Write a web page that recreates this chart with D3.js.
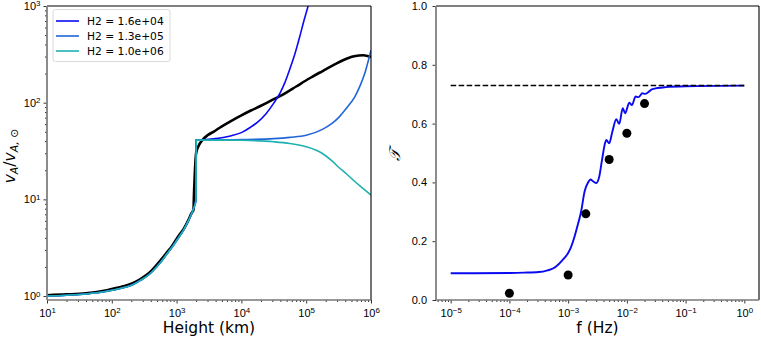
<!DOCTYPE html>
<html>
<head>
<meta charset="utf-8">
<script src="https://cdn.jsdelivr.net/npm/d3@7"></script>
<style>
  body { margin: 0; background: #fff; }
  svg { font-family: "DejaVu Sans", sans-serif; }
</style>
</head>
<body>
<svg id="chart" width="761" height="340"></svg>
<script>
// ---- left panel: Alfven speed profile ----
var heightBelow = [10, 20, 40, 84, 150, 210, 277, 380, 490, 600, 700, 850, 1000, 1150, 1300, 1520, 1700, 1820, 1990];
var colouredBelow = [1.0, 1.02, 1.05, 1.12, 1.22, 1.31, 1.45, 1.68, 2.0, 2.35, 2.7, 3.2, 3.75, 4.3, 4.9, 6.0, 7.1, 8.0, 9.8];

var heightBlack = [10, 20, 40, 84, 150, 210, 277, 380, 490, 600, 700, 850, 1000, 1150, 1300, 1520, 1700, 1820, 1860, 1920, 2000, 2200, 2500, 3000, 3700, 5000, 7000, 10000, 14000, 20000, 31000, 40000, 50000, 70000, 115000, 160000, 200000, 280000, 370000, 460000, 550000, 760000, 1000000];
var vBlack = [1.02, 1.04, 1.07, 1.15, 1.26, 1.36, 1.5, 1.74, 2.09, 2.45, 2.8, 3.3, 3.9, 4.45, 5.0, 6.1, 7.2, 7.8, 12, 20, 30, 36, 41, 46, 50, 57, 65, 74, 83, 93, 108, 117.5, 128, 147, 180, 204, 221, 250, 275, 292, 302, 309, 297];

var heightH2a = [2010, 2500, 4000, 7000, 10000, 14000, 17800, 24000, 31600, 39800, 47000, 56200, 67000, 79400, 92000, 107000, 125000];
var vH2a = [41, 41.2, 42.5, 45.5, 49, 56, 63, 77, 99, 127, 162, 225, 320, 480, 700, 1000, 1500];

var heightH2b = [2010, 5000, 10000, 31600, 56000, 100000, 178000, 250000, 316000, 420000, 562000, 680000, 800000, 900000, 1000000];
var vH2b = [41, 41.2, 41.5, 42.5, 43.8, 46, 53, 61, 70, 88, 115, 150, 200, 265, 350];

var heightH2c = [2010, 5000, 10000, 31600, 56000, 100000, 178000, 250000, 316000, 420000, 562000, 750000, 1000000];
var vH2c = [41, 41, 40.8, 39.4, 37.8, 35, 29.8, 25.0, 21.5, 18.3, 15.3, 13.0, 11.1];

var legendLabels = ["H2 = 1.6e+04", "H2 = 1.3e+05", "H2 = 1.0e+06"];
var legendColors = ["#0a0af5", "#1f66d8", "#1fb0b0"];

// ---- right panel: transmission vs frequency ----
var freqCurve = [1e-5, 1e-4, 1.78e-4, 3.16e-4, 4.47e-4, 5.62e-4, 6.31e-4, 7.94e-4, 1.0e-3, 1.12e-3, 1.26e-3, 1.41e-3, 1.66e-3, 1.91e-3, 2.19e-3, 2.40e-3, 2.69e-3, 3.02e-3, 3.39e-3, 3.80e-3, 4.27e-3, 4.47e-3, 5.01e-3, 5.62e-3, 6.61e-3, 7.41e-3, 8.51e-3, 9.33e-3, 1.10e-2, 1.22e-2, 1.41e-2, 1.58e-2, 1.84e-2, 2.04e-2, 2.72e-2, 4.57e-2, 0.1, 1];
var tCurve = [0.091, 0.092, 0.093, 0.095, 0.101, 0.108, 0.115, 0.135, 0.16, 0.18, 0.21, 0.245, 0.30, 0.37, 0.40, 0.41, 0.403, 0.398, 0.42, 0.48, 0.535, 0.544, 0.533, 0.57, 0.615, 0.599, 0.652, 0.635, 0.671, 0.663, 0.692, 0.690, 0.703, 0.701, 0.717, 0.724, 0.727, 0.729];

var freqDots = [1e-4, 1e-3, 2e-3, 5e-3, 1e-2, 2e-2];
var tDots = [0.023, 0.085, 0.293, 0.478, 0.567, 0.668];

var tLimit = 0.73;
var freqLimit = [1e-5, 1];

var yTicksRight = [0, 0.2, 0.4, 0.6, 0.8, 1.0];

var svg = d3.select("#chart");
var tickFont = 11, labelFont = 15.5;

// panel boxes
var L = { x0: 47, x1: 371, y0: 6, y1: 300 };
var R = { x0: 436, x1: 759, y0: 6, y1: 300 };

var xL = d3.scaleLog().domain([10, 1e6]).range([L.x0, L.x1]);
var yL = d3.scaleLog().domain([0.91, 1000]).range([L.y1, L.y0]);
var xR = d3.scaleLog().domain([Math.pow(10, -5.25), Math.pow(10, 0.25)]).range([R.x0, R.x1]);
var yR = d3.scaleLinear().domain([0, 1]).range([R.y1, R.y0]);

function minorTicks(lo, hi) {
    var out = [];
    for (var e = Math.floor(Math.log10(lo)); e <= Math.ceil(Math.log10(hi)); e++) {
        for (var m = 2; m <= 9; m++) {
            var v = m * Math.pow(10, e);
            if (v >= lo && v <= hi) out.push(v);
        }
    }
    return out;
}
function decades(lo, hi) {
    var out = [];
    for (var e = Math.ceil(Math.log10(lo) - 1e-9); e <= Math.floor(Math.log10(hi) + 1e-9); e++) out.push(e);
    return out;
}

// turn tick text into 10^n
function powLabels(g) {
    g.selectAll(".tick text").each(function(d) {
        var t = d3.select(this);
        var e = Math.round(Math.log10(d));
        t.text(null);
        t.append("tspan").text("10");
        t.append("tspan").attr("dy", "-0.45em").attr("font-size", "0.72em")
            .text(e < 0 ? "\u2212" + (-e) : e);
    });
}

function styleAxis(g) {
    g.select(".domain").remove();
    g.selectAll(".tick line").attr("stroke", "#000").attr("stroke-width", 0.8);
    g.selectAll(".tick text").attr("fill", "#000").attr("font-size", tickFont);
}

function logAxisX(scale, y, lo, hi) {
    var maj = svg.append("g").attr("transform", "translate(0," + y + ")")
        .call(d3.axisBottom(scale).tickValues(decades(lo, hi).map(function(e) { return Math.pow(10, e); }))
            .tickSize(3.5).tickPadding(0));
    styleAxis(maj);
    maj.selectAll(".tick text").attr("y", 9).attr("dy", "0.71em");
    maj.call(powLabels);
    var mino = svg.append("g").attr("transform", "translate(0," + y + ")")
        .call(d3.axisBottom(scale).tickValues(minorTicks(lo, hi)).tickSize(2).tickFormat(""));
    styleAxis(mino);
}

// ---- left panel ----
svg.append("defs").append("clipPath").attr("id", "clipL")
    .append("rect").attr("x", L.x0).attr("y", L.y0).attr("width", L.x1 - L.x0).attr("height", L.y1 - L.y0);

var lineL = d3.line()
    .x(function(d) { return xL(d[0]); })
    .y(function(d) { return yL(d[1]); })
    .curve(d3.curveMonotoneX);

var gL = svg.append("g").attr("clip-path", "url(#clipL)");

gL.append("path")
    .datum(d3.zip(heightBlack, vBlack))
    .attr("fill", "none").attr("stroke", "#000").attr("stroke-width", 2.6)
    .attr("d", lineL);

var seriesH = [heightH2a, heightH2b, heightH2c];
var seriesV = [vH2a, vH2b, vH2c];
seriesH.forEach(function(h, i) {
    var pts = d3.zip(heightBelow.concat(h), colouredBelow.concat(seriesV[i]));
    gL.append("path")
        .datum(pts)
        .attr("fill", "none").attr("stroke", legendColors[i]).attr("stroke-width", 1.6)
        .attr("d", lineL);
});

// left axes
logAxisX(xL, L.y1, 10, 1e6);

var yMajL = svg.append("g").attr("transform", "translate(" + L.x0 + ",0)")
    .call(d3.axisLeft(yL).tickValues([1, 10, 100, 1000]).tickSize(3.5).tickPadding(3));
styleAxis(yMajL);
yMajL.selectAll(".tick text").attr("dy", "0.32em");
yMajL.call(powLabels);
var yMinL = svg.append("g").attr("transform", "translate(" + L.x0 + ",0)")
    .call(d3.axisLeft(yL).tickValues(minorTicks(0.91, 1000)).tickSize(2).tickFormat(""));
styleAxis(yMinL);

// spines
function spines(B) {
    svg.append("line").attr("x1", B.x0).attr("x2", B.x1).attr("y1", B.y0).attr("y2", B.y0)
        .attr("stroke", "#000").attr("stroke-width", 1.1);
    svg.append("line").attr("x1", B.x1).attr("x2", B.x1).attr("y1", B.y0).attr("y2", B.y1)
        .attr("stroke", "#000").attr("stroke-width", 1.1);
    svg.append("line").attr("x1", B.x0).attr("x2", B.x1).attr("y1", B.y1).attr("y2", B.y1)
        .attr("stroke", "#777").attr("stroke-width", 1.5);
    svg.append("line").attr("x1", B.x0).attr("x2", B.x0).attr("y1", B.y0).attr("y2", B.y1)
        .attr("stroke", "#808080").attr("stroke-width", 1.8);
}
spines(L);

// legend
var leg = svg.append("g");
leg.append("rect").attr("x", 53).attr("y", 9.5).attr("width", 117).attr("height", 52)
    .attr("rx", 2.5).attr("fill", "#fff").attr("fill-opacity", 0.8)
    .attr("stroke", "#d0d0d0").attr("stroke-width", 0.8);
legendLabels.forEach(function(lab, i) {
    var yy = 21 + i * 15;
    leg.append("line").attr("x1", 56).attr("x2", 79).attr("y1", yy).attr("y2", yy)
        .attr("stroke", legendColors[i]).attr("stroke-width", 1.6);
    leg.append("text").attr("x", 87).attr("y", yy).attr("dy", "0.36em")
        .attr("font-size", 10.7).text(lab);
});

// axis labels left
svg.append("text").attr("x", (L.x0 + L.x1) / 2).attr("y", 333)
    .attr("text-anchor", "middle").attr("font-size", labelFont).text("Height (km)");

var yl = svg.append("text")
    .attr("transform", "translate(15,156) rotate(-90)")
    .attr("text-anchor", "middle").attr("font-size", labelFont);
yl.append("tspan").attr("font-style", "italic").text("v");
yl.append("tspan").attr("font-style", "italic").attr("font-size", "0.7em").attr("dy", "0.25em").text("A");
yl.append("tspan").attr("dy", "-0.18em").text("/");
yl.append("tspan").attr("font-style", "italic").text("v");
yl.append("tspan").attr("font-style", "italic").attr("font-size", "0.7em").attr("dy", "0.25em").text("A, ");
yl.append("tspan").attr("font-size", "0.7em").text("\u2299");

// ---- right panel ----
var lineR = d3.line()
    .x(function(d) { return xR(d[0]); })
    .y(function(d) { return yR(d[1]); })
    .curve(d3.curveMonotoneX);

svg.append("path")
    .datum(d3.zip(freqCurve, tCurve))
    .attr("fill", "none").attr("stroke", "#0a0af0").attr("stroke-width", 1.9)
    .attr("d", lineR);

svg.append("line")
    .attr("x1", xR(freqLimit[0])).attr("x2", xR(freqLimit[1]))
    .attr("y1", yR(tLimit)).attr("y2", yR(tLimit))
    .attr("stroke", "#000").attr("stroke-width", 1.5).attr("stroke-dasharray", "5.5,2.5");

svg.append("g").selectAll("circle")
    .data(d3.zip(freqDots, tDots))
    .enter().append("circle")
    .attr("cx", function(d) { return xR(d[0]); })
    .attr("cy", function(d) { return yR(d[1]); })
    .attr("r", 4.5).attr("fill", "#000");

logAxisX(xR, R.y1, Math.pow(10, -5.25), Math.pow(10, 0.25));

var yAxR = svg.append("g").attr("transform", "translate(" + R.x0 + ",0)")
    .call(d3.axisLeft(yR).tickValues(yTicksRight).tickFormat(d3.format(".1f")).tickSize(3.5).tickPadding(5.5));
styleAxis(yAxR);

spines(R);

svg.append("text").attr("x", (R.x0 + R.x1) / 2).attr("y", 333)
    .attr("text-anchor", "middle").attr("font-size", labelFont).text("f (Hz)");

svg.append("text")
    .attr("transform", "translate(400,155) rotate(-90)")
    .attr("text-anchor", "middle").attr("font-size", labelFont)
    .attr("font-family", "DejaVu Serif").attr("font-style", "italic")
    .text("\uD835\uDCAF");
</script>
</body>
</html>
